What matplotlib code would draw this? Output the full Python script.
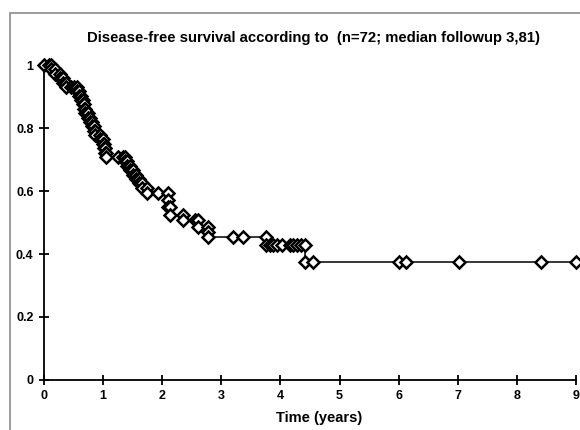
import matplotlib.pyplot as plt
from matplotlib.patches import Rectangle

# Kaplan-Meier points (Excel style: both ends of each drop)
time_yrs = [0.00, 0.08, 0.12, 0.12, 0.19, 0.19, 0.27, 0.27, 0.32, 0.32,
            0.37, 0.37, 0.45, 0.50, 0.55, 0.55, 0.60, 0.60, 0.63, 0.63,
            0.66, 0.66, 0.68, 0.68, 0.70, 0.70, 0.74, 0.74, 0.77, 0.77,
            0.81, 0.81, 0.84, 0.84, 0.87, 0.87, 0.94, 0.94, 1.00, 1.00,
            1.02, 1.02, 1.04, 1.04, 1.05, 1.05, 1.25, 1.33, 1.37, 1.37,
            1.40, 1.40, 1.45, 1.45, 1.50, 1.50, 1.55, 1.55, 1.60, 1.60,
            1.66, 1.66, 1.75, 1.75, 1.93, 2.10, 2.10, 2.10, 2.13, 2.13,
            2.35, 2.35, 2.55, 2.60, 2.60, 2.78, 2.78, 2.78, 3.20, 3.37,
            3.76, 3.76, 3.82, 3.87, 3.94, 4.03, 4.16, 4.21, 4.28, 4.34,
            4.42, 4.42, 4.55, 6.00, 6.13, 7.02, 8.41, 9.00]
dfs = [1.000, 1.000, 1.000, 0.986, 0.986, 0.972, 0.972, 0.958, 0.958, 0.944,
       0.944, 0.931, 0.931, 0.931, 0.931, 0.917, 0.917, 0.903, 0.903, 0.889,
       0.889, 0.875, 0.875, 0.861, 0.861, 0.847, 0.847, 0.833, 0.833, 0.819,
       0.819, 0.806, 0.806, 0.792, 0.792, 0.778, 0.778, 0.764, 0.764, 0.750,
       0.750, 0.736, 0.736, 0.722, 0.722, 0.708, 0.708, 0.708, 0.708, 0.694,
       0.694, 0.680, 0.680, 0.666, 0.666, 0.652, 0.652, 0.638, 0.638, 0.624,
       0.624, 0.610, 0.610, 0.593, 0.593, 0.593, 0.572, 0.550, 0.550, 0.524,
       0.524, 0.508, 0.508, 0.508, 0.486, 0.486, 0.470, 0.455, 0.455, 0.455,
       0.455, 0.428, 0.428, 0.428, 0.428, 0.428, 0.428, 0.428, 0.428, 0.428,
       0.428, 0.375, 0.375, 0.375, 0.375, 0.375, 0.375, 0.375]

x_ticks = [0, 1, 2, 3, 4, 5, 6, 7, 8, 9]
y_ticks = [0, 0.2, 0.4, 0.6, 0.8, 1]
y_labels = ['0', '0.2', '0.4', '0.6', '0.8', '1']

plt.rcParams['font.family'] = ['Liberation Sans', 'DejaVu Sans']

fig = plt.figure(figsize=(5.8, 4.3), dpi=100)
ax = fig.add_axes([0.0759, 0.1163, 0.9172, 0.7325])

# grey frame around the chart area (cut off at right and bottom like the source)
fig.patches.append(Rectangle((10 / 580, -0.1), 1.2, 1 - 13 / 430 + 0.1,
                             transform=fig.transFigure, fill=False,
                             edgecolor='#8c8c8c', linewidth=1.2))

ax.plot(time_yrs, dfs, color='black', linewidth=1.1, marker='D',
        markersize=6.5, markerfacecolor='white', markeredgecolor='black',
        markeredgewidth=1.8, clip_on=False, zorder=3)

ax.set_xlim(0, 9)
ax.set_ylim(0, 1)
ax.set_xticks(x_ticks)
ax.set_yticks(y_ticks)
ax.set_yticklabels(y_labels)
for side in ['top', 'right']:
    ax.spines[side].set_visible(False)
for side in ['left', 'bottom']:
    ax.spines[side].set_linewidth(1.3)
ax.tick_params(direction='inout', length=7, width=1.3, labelsize=9, pad=4)
for lbl in ax.get_xticklabels() + ax.get_yticklabels():
    lbl.set_fontweight('bold')

fig.text(0.541, 0.912, 'Disease-free survival according to  (n=72; median followup 3,81)',
         ha='center', va='center', fontsize=10.7, fontweight='bold')
fig.text(0.55, 0.027, 'Time (years)', ha='center', va='center',
         fontsize=10.5, fontweight='bold')

fig.savefig('out.png', dpi=100)
